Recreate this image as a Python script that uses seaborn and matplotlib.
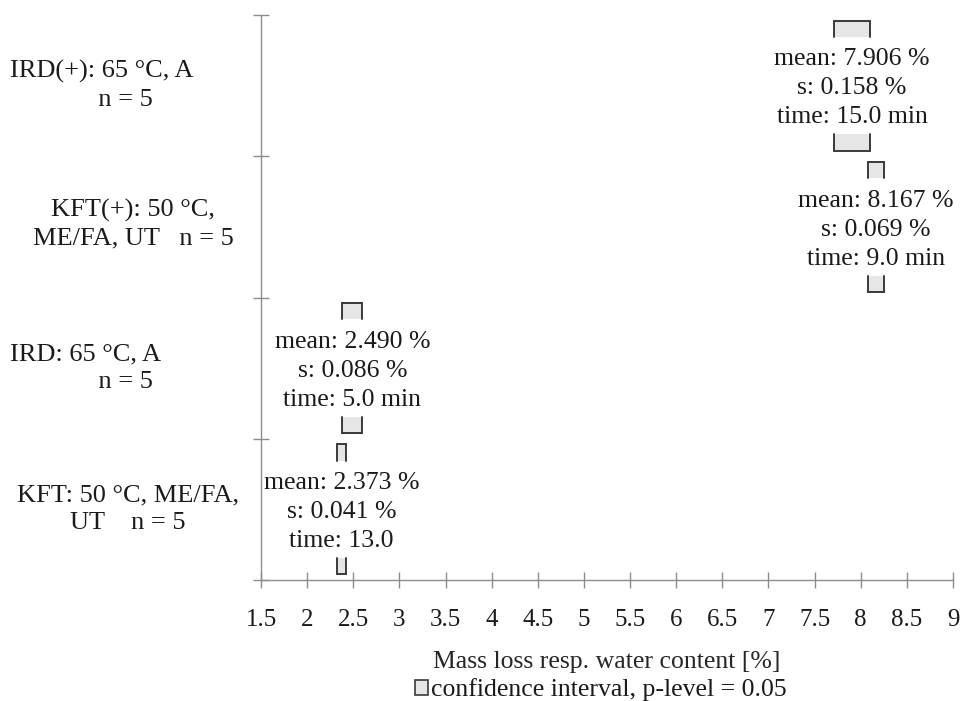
import matplotlib
matplotlib.use("Agg")
import matplotlib.pyplot as plt
import matplotlib.transforms as mtransforms
from matplotlib.patches import Patch
import seaborn as sns
import numpy as np
import pandas as pd

# ---- data ----
group_labels = ["IRD(+): 65 °C, A\n       n = 5",
                "KFT(+): 50 °C,\nME/FA, UT   n = 5",
                "IRD: 65 °C, A\n            n = 5",
                "KFT: 50 °C, ME/FA,\nUT    n = 5"]
means = [7.906, 8.167, 2.490, 2.373]
sds = [0.158, 0.069, 0.086, 0.041]
ci_half = [0.196, 0.086, 0.107, 0.051]
times = ["15.0 min", "9.0 min", "5.0 min", "13.0"]
xticks = [1.5, 2, 2.5, 3, 3.5, 4, 4.5, 5, 5.5, 6, 6.5, 7, 7.5, 8, 8.5, 9]
xtick_labels = ["1.5", "2", "2.5", "3", "3.5", "4", "4.5", "5", "5.5",
                "6", "6.5", "7", "7.5", "8", "8.5", "9"]
xlabel = "Mass loss resp. water content [%]"
legend_label = "confidence interval, p-level = 0.05"

df = pd.DataFrame({"group": group_labels, "mean": means, "s": sds,
                   "ci": ci_half, "time": times})
df["lo"] = df["mean"] - df["ci"]
df["hi"] = df["mean"] + df["ci"]
df["band"] = np.arange(len(df))

# ---- style ----
sns.set_theme(style="white")
plt.rcParams["font.family"] = ["Liberation Serif", "DejaVu Serif"]
plt.rcParams["text.color"] = "#1a1a1a"

AX_COL = "#8c8c8c"
EDGE = "#3a3a3a"
FILL = "#e6e6e6"

fig = plt.figure(figsize=(9.61, 7.01), dpi=100)
L, R, T, B = 261, 953, 15, 580
ax = fig.add_axes([L / 961, 1 - B / 701, (R - L) / 961, (B - T) / 701])

box_near, box_far = 0.04, 0.155
for _, r in df.iterrows():
    i = r["band"]
    # top box (open at bottom)
    ax.barh(i + (box_near + box_far) / 2, r["hi"] - r["lo"], left=r["lo"],
            height=box_far - box_near, color=FILL, edgecolor="none", zorder=2)
    ax.plot([r["lo"], r["lo"], r["hi"], r["hi"]],
            [i + box_far, i + box_near, i + box_near, i + box_far],
            color=EDGE, lw=1.4, zorder=3, solid_joinstyle="miter")
    # bottom box (open at top)
    ax.barh(i + 1 - (box_near + box_far) / 2, r["hi"] - r["lo"], left=r["lo"],
            height=box_far - box_near, color=FILL, edgecolor="none", zorder=2)
    ax.plot([r["lo"], r["lo"], r["hi"], r["hi"]],
            [i + 1 - box_far, i + 1 - box_near, i + 1 - box_near, i + 1 - box_far],
            color=EDGE, lw=1.4, zorder=3, solid_joinstyle="miter")
    c = i + 0.52
    ax.text(r["mean"], c - 0.205, f"mean: {r['mean']:.3f} %", ha="center",
            va="center", fontsize=18.5, zorder=4)
    ax.text(r["mean"], c, f"s: {r['s']:.3f} %", ha="center", va="center",
            fontsize=18.5, zorder=4)
    ax.text(r["mean"], c + 0.205, f"time: {r['time']}", ha="center",
            va="center", fontsize=18.5, zorder=4)

# group labels left of the axis
label_center_px = [102, 133, 86, 128]
label_dy = [0.0, -0.02, 0.0, 0.0]
trans = mtransforms.blended_transform_factory(ax.transAxes, ax.transData)
for i, (lab, px, dy) in enumerate(zip(df["group"], label_center_px, label_dy)):
    ax.text((px - L) / (R - L), i + 0.5 + dy, lab, transform=trans, ha="center",
            va="center", multialignment="center", fontsize=19,
            linespacing=1.32)

ax.set_xlim(1.5, 9)
ax.set_ylim(4, 0)
ax.set_xticks(xticks)
ax.set_xticklabels(xtick_labels, fontsize=18)
ax.set_yticks([0, 1, 2, 3, 4])
ax.set_yticklabels([])
ax.tick_params(axis="both", direction="inout", length=11.5, width=1,
               color=AX_COL)
ax.tick_params(axis="x", pad=15, labelcolor="#1a1a1a")
ax.tick_params(axis="y", left=True)
ax.tick_params(axis="x", bottom=True)
sns.despine(ax=ax, top=True, right=True)
for sp in ("left", "bottom"):
    ax.spines[sp].set_color(AX_COL)
    ax.spines[sp].set_linewidth(1)

ax.set_xlabel(xlabel, fontsize=18.5)
ax.xaxis.label.set_va("center")
ax.xaxis.set_label_coords(0.5, (B - 662) / (B - T))

handle = Patch(facecolor=FILL, edgecolor=EDGE, lw=1.2)
fig.legend([handle], [legend_label], loc="center",
           bbox_to_anchor=(601 / 961, 1 - 690 / 701), frameon=False,
           fontsize=18.5, handlelength=0.5, handleheight=0.56,
           handletextpad=0.12, borderpad=0, borderaxespad=0)

fig.savefig("out.png", dpi=100)
